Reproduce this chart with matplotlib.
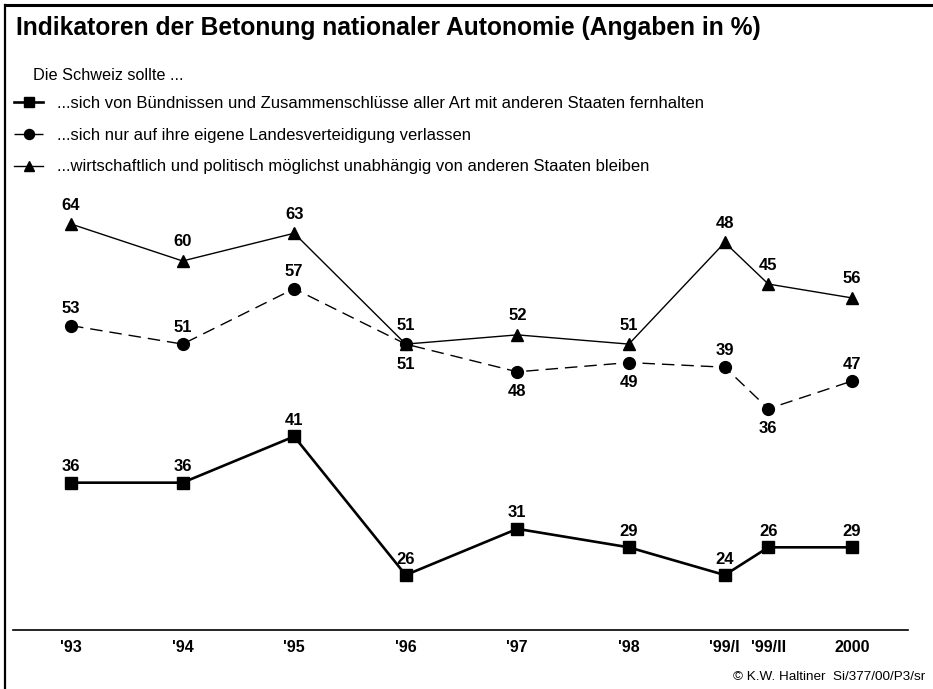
import matplotlib
matplotlib.use("Agg")
import matplotlib.pyplot as plt
from matplotlib.lines import Line2D

plt.rcParams['font.family'] = ['Liberation Sans', 'DejaVu Sans']

# ---- data -------------------------------------------------------------
periods = ["'93", "'94", "'95", "'96", "'97", "'98", "'99/I", "'99/II", "2000"]
period_pos = [1993, 1994, 1995, 1996, 1997, 1998, 1998.86, 1999.25, 2000]

series_names = [
    "...sich von Bündnissen und Zusammenschlüsse aller Art mit anderen Staaten fernhalten",
    "...sich nur auf ihre eigene Landesverteidigung verlassen",
    "...wirtschaftlich und politisch möglichst unabhängig von anderen Staaten bleiben",
]

# heights of the points as drawn in the original chart
fernhalten = [36, 36, 41, 26, 31, 29, 26, 29, 29]
verteidigung = [53, 51, 57, 51, 48, 49, 48.5, 44, 47]
unabhaengig = [64, 60, 63, 51, 52, 51, 62, 57.5, 56]

# value labels printed next to the points
fernhalten_labels = ["36", "36", "41", "26", "31", "29", "24", "26", "29"]
verteidigung_labels = ["53", "51", "57", "51", "48", "49", "39", "36", "47"]
unabhaengig_labels = ["64", "60", "63", "51", "52", "51", "48", "45", "56"]

# ---- figure -----------------------------------------------------------
W, H = 933, 689
fig = plt.figure(figsize=(W / 100, H / 100), dpi=100)
fig.patch.set_facecolor("white")

def fx(px):
    return px / W

def fy(py):
    return 1 - py / H

ax = fig.add_axes([fx(13), fy(630), (908 - 13) / W, (630 - 200) / H])
ax.set_xlim(1992.48, 2000.502)
ax.set_ylim(20.05, 66.6)
for s in ("left", "right", "top"):
    ax.spines[s].set_visible(False)
ax.spines["bottom"].set_linewidth(1.2)
ax.set_yticks([])
ax.set_xticks(period_pos, periods)
ax.tick_params(axis="x", length=0, pad=7)
for t in ax.get_xticklabels():
    t.set_fontweight("bold")
    t.set_fontsize(11.5)

l_sq, = ax.plot(period_pos, fernhalten, color="black", lw=1.9, marker="s",
                ms=9, solid_joinstyle="miter", label=series_names[0])
l_ci, = ax.plot(period_pos, verteidigung, color="black", lw=1.0, ls=(0, (9, 5)),
                marker="o", ms=8.5, label=series_names[1])
l_tr, = ax.plot(period_pos, unabhaengig, color="black", lw=1.0, marker="^",
                ms=9, label=series_names[2])

label_font = dict(fontsize=12, fontweight="bold", ha="center", va="center")

def put_labels(values, labels, above_off, below_idx=()):
    for i, (x, v, lab) in enumerate(zip(period_pos, values, labels)):
        off = 20 if i in below_idx else above_off
        sign = -1 if i in below_idx else 1
        ax.annotate(lab, (x, v), xytext=(0, sign * off),
                    textcoords="offset pixels", **label_font)

put_labels(fernhalten, fernhalten_labels, 16)
put_labels(verteidigung, verteidigung_labels, 17, below_idx=(3, 4, 5, 7))
put_labels(unabhaengig, unabhaengig_labels, 19)

leg = ax.legend(handles=[l_sq, l_ci, l_tr], loc="upper left",
                bbox_to_anchor=(fx(14), fy(96)), bbox_transform=fig.transFigure,
                frameon=False, fontsize=12, handlelength=1.75,
                handletextpad=0.85, labelspacing=1.0, borderpad=0,
                borderaxespad=0, markerscale=0.85)

# ---- texts & frame ----------------------------------------------------
fig.text(fx(16), fy(28), "Indikatoren der Betonung nationaler Autonomie (Angaben in %)",
         fontsize=17.7, fontweight="bold", ha="left", va="center")
fig.text(fx(33), fy(75), "Die Schweiz sollte ...", fontsize=11.7,
         ha="left", va="center")
fig.text(fx(925), fy(677), "© K.W. Haltiner  Si/377/00/P3/sr", fontsize=9.7,
         ha="right", va="center")

fig.add_artist(Line2D([fx(5), fx(933)], [fy(5), fy(5)], transform=fig.transFigure,
                      color="black", lw=2.2))
fig.add_artist(Line2D([fx(5), fx(5)], [fy(5), fy(689)], transform=fig.transFigure,
                      color="black", lw=1.6))

fig.savefig("out.png", dpi=100, facecolor="white")
